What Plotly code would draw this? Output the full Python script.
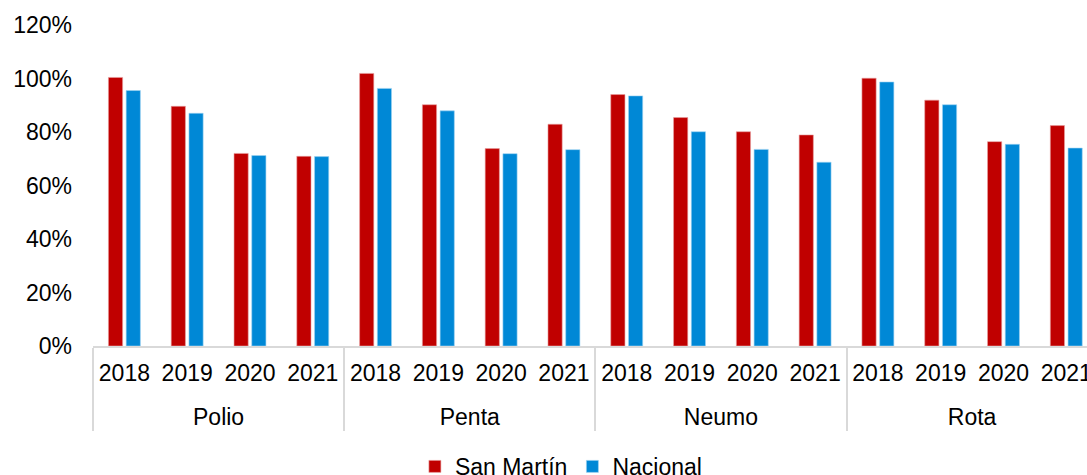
import plotly.graph_objects as go

vaccines = ["Polio", "Penta", "Neumo", "Rota"]
years = ["2018", "2019", "2020", "2021"]

san_martin = [100.4, 89.6, 72.0, 70.9,
              101.9, 90.2, 73.8, 82.9,
              94.0, 85.4, 80.1, 78.9,
              100.1, 91.9, 76.4, 82.4]
nacional = [95.5, 87.0, 71.2, 70.8,
            96.3, 87.9, 71.9, 73.4,
            93.5, 80.1, 73.5, 68.7,
            98.7, 90.2, 75.4, 74.0]

# pad span makes the year label box taller so the group label sits lower
PAD = "<span style='font-size:43px'>&nbsp;</span>"
x_outer = [v for v in vaccines for _ in years]
x_inner = [PAD + y + PAD for _ in vaccines for y in years]

FONT = "Liberation Sans, Arial, sans-serif"

fig = go.Figure()
fig.add_trace(go.Bar(
    x=[x_outer, x_inner], y=[v / 100 for v in san_martin], name="San Martín",
    marker=dict(color="#C00000", line=dict(color="#E8A0A0", width=0.6)),
))
fig.add_trace(go.Bar(
    x=[x_outer, x_inner], y=[v / 100 for v in nacional], name="Nacional",
    marker=dict(color="#0088D6", line=dict(color="#9FD3F2", width=0.6)),
))

fig.update_layout(
    width=1087, height=475,
    margin=dict(l=93, r=0, t=25, b=129),
    plot_bgcolor="white", paper_bgcolor="white",
    font=dict(family=FONT, size=23, color="#000000"),
    barmode="group", bargap=0.435, bargroupgap=0.2,
    showlegend=True,
    legend=dict(orientation="h", xref="container", x=0.516, xanchor="center",
                yref="container", y=0.018, yanchor="middle",
                font=dict(family=FONT, size=23),
                itemwidth=30, tracegroupgap=0, traceorder="normal"),
    xaxis=dict(
        type="multicategory", range=[-0.5, 15.33], tickangle=0,
        ticklabelstandoff=6,
        showline=True, linecolor="#D9D9D9", linewidth=1.5,
        showdividers=True, dividercolor="#D9D9D9", dividerwidth=1.5,
        tickfont=dict(family=FONT, size=23),
        showgrid=False, zeroline=False,
    ),
    yaxis=dict(
        range=[0, 1.2], tickvals=[0, 0.2, 0.4, 0.6, 0.8, 1.0, 1.2],
        tickformat=".0%", showgrid=False, zeroline=False, showline=False,
        ticklabelstandoff=20,
        tickfont=dict(family=FONT, size=23),
    ),
)

fig.write_html("out.html", config={"displayModeBar": False},
               post_script="document.body.style.margin='0';document.body.style.overflow='hidden';")
